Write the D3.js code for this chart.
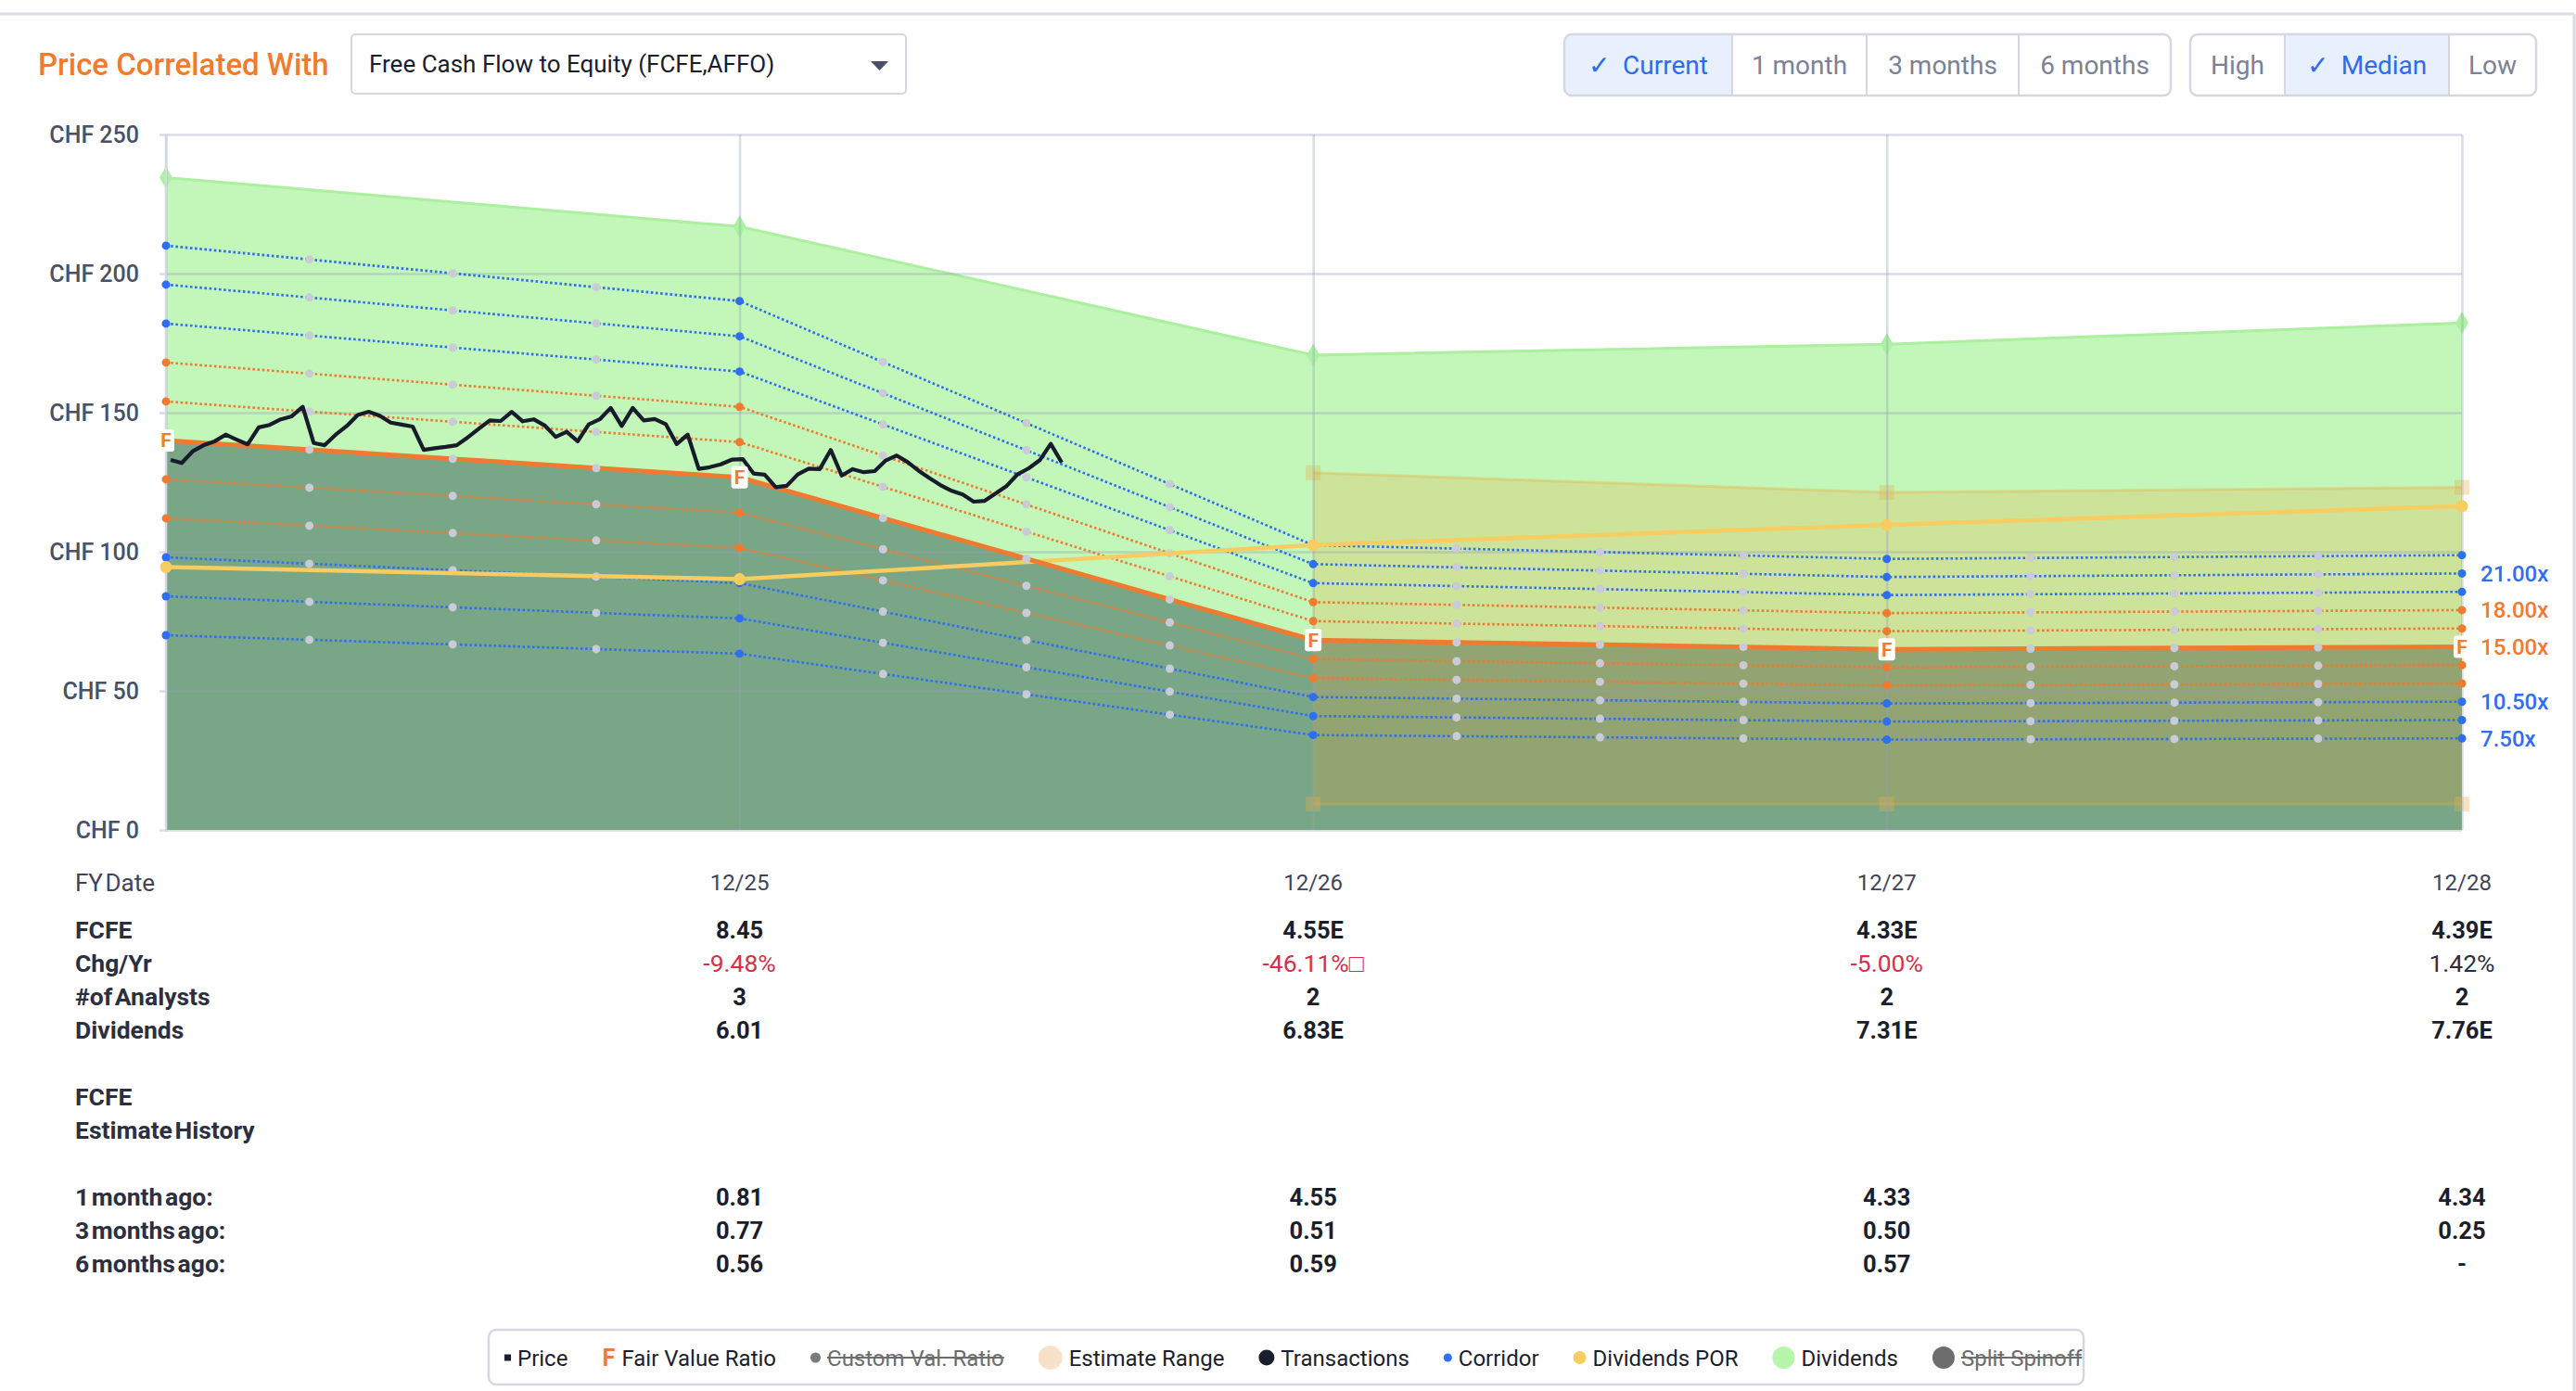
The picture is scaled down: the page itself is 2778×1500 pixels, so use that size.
<!DOCTYPE html>
<html><head><meta charset="utf-8">
<script src="https://cdn.jsdelivr.net/npm/d3@7"></script>
<style>
html,body{margin:0;padding:0;background:#fff;}
svg{display:block;font-family:Roboto,"Liberation Sans",Arial,sans-serif;}
</style></head><body>
<svg id="c" width="2778" height="1500"></svg>
<script>
// ---------------- DATA ----------------
const fyDates = ["2024-12-31","2025-12-31","2026-12-31","2027-12-31","2028-12-31"];
const fyLabels = ["12/24","12/25","12/26","12/27","12/28"];
const fcfe = [9.335, 8.45, 4.55, 4.33, 4.39];
const dividends = [6.3, 6.01, 6.83, 7.31, 7.76];
const fairMultiple = 15;
const corridorMultiples = [7.5, 9, 10.5, 12, 13.5, 16.5, 18, 19.5, 21, 22.5];
const corridorKinds = ["blue","blue","blue","orange","orange","orange","orange","blue","blue","blue"];
const labeledMultiples = [21, 18, 15, 10.5, 7.5];
const estimateYears = ["2026-12-31","2027-12-31","2028-12-31"];
const estimateHigh = [8.56, 8.09, 8.21];
const estimateLow = [0.62, 0.62, 0.62];
const priceStart = "2025-01-03";
const price = [133.0,131.9,136.1,138.3,139.7,142.1,140.3,138.6,144.7,145.6,147.6,148.7,152.1,139.1,138.3,142.1,145.2,149.2,150.3,148.9,146.4,145.7,145.0,136.6,137.2,137.7,138.3,141.1,144.2,147.2,147.0,150.3,146.9,147.6,145.4,141.3,143.1,139.7,145.8,147.6,151.7,145.2,151.7,
  147.2,147.7,145.9,138.7,142.1,129.8,130.4,131.4,133.1,133.3,128.1,127.7,123.2,123.7,127.8,129.9,129.7,136.6,127.4,129.7,128.6,129.0,132.8,134.6,132.2,129.1,126.4,123.9,121.9,120.6,118.0,118.3,121.0,123.7,127.9,130.0,132.9,138.8,132.1];
const yTicks = [0, 50, 100, 150, 200, 250];

const tableCols = ["12/25","12/26","12/27","12/28"];
const rowFCFE = ["8.45","4.55E","4.33E","4.39E"];
const rowChg = ["-9.48%","-46.11%\u25A1","-5.00%","1.42%"];
const rowAnalysts = ["3","2","2","2"];
const rowDividends = ["6.01","6.83E","7.31E","7.76E"];
const hist1m = ["0.81","4.55","4.33","4.34"];
const hist3m = ["0.77","0.51","0.50","0.25"];
const hist6m = ["0.56","0.59","0.57","-"];

const periodButtons = ["Current","1 month","3 months","6 months"];
const statButtons = ["High","Median","Low"];
const legendItems = [
  {label:"Price", sym:"square", color:"#1b1e2c"},
  {label:"Fair Value Ratio", sym:"F", color:"#ef7b31"},
  {label:"Custom Val. Ratio", sym:"circle", r:5.5, color:"#7a7a7a", off:true},
  {label:"Estimate Range", sym:"circle", r:13, color:"#f6e2c9"},
  {label:"Transactions", sym:"circle", r:8.5, color:"#1b1e2c"},
  {label:"Corridor", sym:"circle", r:4.5, color:"#2e6ff2"},
  {label:"Dividends POR", sym:"circle", r:7, color:"#f7cd62"},
  {label:"Dividends", sym:"circle", r:12, color:"#b6f5aa"},
  {label:"Split Spinoff", sym:"circle", r:12, color:"#6d6d6d", off:true}
];

// ---------------- STYLE ----------------
const BLUE = "#2e6ff2", ORANGE = "#ef7b31", GRAY_DOT = "#c9cbd6";
const svg = d3.select("#c");
const parse = d3.timeParse("%Y-%m-%d");
const fy = fyDates.map(parse);
const x = d3.scaleTime().domain([fy[0], fy[fy.length-1]]).range([179, 2655]);
const y = d3.scaleLinear().domain([0, 250]).range([895, 145]);
const idx = d3.range(fy.length);
const fv = idx.map(i => fairMultiple * fcfe[i]);
const divPOR = idx.map(i => fairMultiple * dividends[i]);
const divTop = idx.map(i => fv[i] + divPOR[i]);

// ---------------- FRAME / HEADER ----------------
svg.append("line").attr("x1",0).attr("x2",2776).attr("y1",15).attr("y2",15).attr("stroke","#d9dce4").attr("stroke-width",3);
svg.append("line").attr("x1",2776).attr("x2",2776).attr("y1",15).attr("y2",1500).attr("stroke","#d9dce4").attr("stroke-width",3);

svg.append("text").attr("x",41).attr("y",81).text("Price Correlated With")
  .attr("font-size",33).attr("font-weight",500).attr("fill","#f07b2f");

svg.append("rect").attr("x",379).attr("y",37).attr("width",598).attr("height",64).attr("rx",4)
  .attr("fill","#fff").attr("stroke","#d5d8e2").attr("stroke-width",2);
svg.append("text").attr("x",398).attr("y",78).text("Free Cash Flow to Equity (FCFE,AFFO)")
  .attr("font-size",26).attr("fill","#1a1d2e");
svg.append("path").attr("d","M939,66 L958,66 L948.5,76 Z").attr("fill","#4a5068");

function buttonGroup(labels, bounds, selected, id){
  const g = svg.append("g");
  const x0 = bounds[0], x1 = bounds[bounds.length-1];
  const cp = svg.append("clipPath").attr("id", id);
  cp.append("rect").attr("x",x0).attr("y",37).attr("width",x1-x0).attr("height",66).attr("rx",8);
  g.append("rect").attr("x",x0).attr("y",37).attr("width",x1-x0).attr("height",66).attr("rx",8).attr("fill","#fff");
  g.append("rect").attr("clip-path",`url(#${id})`).attr("x",bounds[selected]).attr("y",37)
    .attr("width",bounds[selected+1]-bounds[selected]).attr("height",66).attr("fill","#e8f0fe");
  for(let i=1;i<bounds.length-1;i++){
    g.append("line").attr("x1",bounds[i]).attr("x2",bounds[i]).attr("y1",37).attr("y2",103).attr("stroke","#d5d8e2").attr("stroke-width",2);
  }
  g.append("rect").attr("x",x0).attr("y",37).attr("width",x1-x0).attr("height",66).attr("rx",8)
    .attr("fill","none").attr("stroke","#d5d8e2").attr("stroke-width",2.5);
  labels.forEach((l,i)=>{
    const t = g.append("text").attr("x",(bounds[i]+bounds[i+1])/2).attr("y",80).attr("text-anchor","middle")
      .attr("font-size",28).attr("fill", i===selected ? "#2f6bf0" : "#7b8197");
    if(i===selected){
      t.append("tspan").text("\u2713");
      t.append("tspan").attr("dx",14).text(l);
    } else t.text(l);
  });
}
buttonGroup(periodButtons, [1687,1868,2013,2177,2341], 0, "cpA");
buttonGroup(statButtons, [2362,2464,2641,2735], 1, "cpB");

// ---------------- PLOT ----------------
const plot = svg.append("g");
plot.append("path").datum(idx)
  .attr("d", d3.area().x(i=>x(fy[i])).y0(i=>y(fv[i])).y1(i=>y(divTop[i])))
  .attr("fill","#c3f7b9");
plot.append("path").datum(idx)
  .attr("d", d3.area().x(i=>x(fy[i])).y0(y(0)).y1(i=>y(fv[i])))
  .attr("fill","#79a686");
plot.append("path").datum(idx)
  .attr("d", d3.line().x(i=>x(fy[i])).y(i=>y(divTop[i])))
  .attr("fill","none").attr("stroke","#abef9f").attr("stroke-width",3);
plot.selectAll(".dmd").data(idx).join("path")
  .attr("transform", i=>`translate(${x(fy[i])},${y(divTop[i])})`)
  .attr("d", d3.symbol(d3.symbolDiamond, 170)).attr("fill","#abf3a0");

// estimate range
const estIdx = d3.range(estimateYears.length);
const estX = i => x(parse(estimateYears[i]));
plot.append("path").datum(estIdx)
  .attr("d", d3.area().x(estX).y0(i=>y(fairMultiple*estimateLow[i])).y1(i=>y(fairMultiple*estimateHigh[i])))
  .attr("fill","rgba(237,160,40,0.22)");
["high","low"].forEach(k=>{
  const arr = k==="high" ? estimateHigh : estimateLow;
  plot.append("path").datum(estIdx)
    .attr("d", d3.line().x(estX).y(i=>y(fairMultiple*arr[i])))
    .attr("fill","none").attr("stroke","rgba(237,170,60,0.35)").attr("stroke-width",3);
  plot.selectAll(".sq"+k).data(estIdx).join("rect")
    .attr("x", i=>estX(i)-8).attr("y", i=>y(fairMultiple*arr[i])-8).attr("width",16).attr("height",16)
    .attr("fill","rgba(232,175,80,0.35)");
});

// gridlines
const gGrid = plot.append("g").attr("transform","translate(2655,0)")
  .call(d3.axisLeft(y).tickValues(yTicks).tickSize(2655-172).tickFormat(""));
gGrid.select(".domain").remove();
gGrid.selectAll("line").attr("stroke","rgba(150,160,182,0.36)").attr("stroke-width",2.5);
const gV = plot.append("g").attr("transform",`translate(0,${y(0)})`)
  .call(d3.axisBottom(x).tickValues(fy).tickSize(-(y(0)-y(250))).tickFormat(""));
gV.select(".domain").remove();
gV.selectAll("line").attr("stroke","rgba(150,160,182,0.36)").attr("stroke-width",2.5);
plot.append("line").attr("x1",179).attr("x2",179).attr("y1",y(250)).attr("y2",y(0)+2)
  .attr("stroke","#d5d8e0").attr("stroke-width",2.5);

// y labels
const gY = svg.append("g").attr("transform","translate(172,0)")
  .call(d3.axisLeft(y).tickValues(yTicks).tickSize(0).tickPadding(22).tickFormat(d=>"CHF " + d));
gY.select(".domain").remove();
gY.selectAll("text").attr("font-size",25).attr("font-weight",500).attr("fill","#4b5066")
  .attr("font-family","Roboto, 'Liberation Sans', Arial, sans-serif");

// quarter markers helper
const quarters = [0.25, 0.5, 0.75];
function quarterPoints(vals){
  const pts = [];
  for(let i=0;i<vals.length-1;i++){
    quarters.forEach(q=>{
      pts.push({t: new Date(+fy[i] + q*(fy[i+1]-fy[i])), v: d3.interpolateNumber(vals[i], vals[i+1])(q)});
    });
  }
  return pts;
}

// corridor lines
corridorMultiples.forEach((m,k)=>{
  const vals = idx.map(i => m*fcfe[i]);
  const col = corridorKinds[k]==="blue" ? BLUE : ORANGE;
  plot.append("path").datum(idx)
    .attr("d", d3.line().x(i=>x(fy[i])).y(i=>y(vals[i])))
    .attr("fill","none").attr("stroke",col).attr("stroke-width",2.6).attr("stroke-dasharray","2.6,2.6");
  plot.selectAll(null).data(quarterPoints(vals)).join("circle")
    .attr("cx",d=>x(d.t)).attr("cy",d=>y(d.v)).attr("r",4.5).attr("fill",GRAY_DOT);
  plot.selectAll(null).data(idx).join("circle")
    .attr("cx",i=>x(fy[i])).attr("cy",i=>y(vals[i])).attr("r",4.5).attr("fill",col);
});

// dividends POR line
plot.append("path").datum(idx)
  .attr("d", d3.line().x(i=>x(fy[i])).y(i=>y(divPOR[i])))
  .attr("fill","none").attr("stroke","#f7cd62").attr("stroke-width",4.5);
plot.selectAll(null).data(idx).join("circle")
  .attr("cx",i=>x(fy[i])).attr("cy",i=>y(divPOR[i])).attr("r",6.5).attr("fill","#f7cd62");

// fair value line
plot.append("path").datum(idx)
  .attr("d", d3.line().x(i=>x(fy[i])).y(i=>y(fv[i])))
  .attr("fill","none").attr("stroke",ORANGE).attr("stroke-width",5);
plot.selectAll(null).data(quarterPoints(fv)).join("circle")
  .attr("cx",d=>x(d.t)).attr("cy",d=>y(d.v)).attr("r",4.5).attr("fill",GRAY_DOT);

// price line
const pStart = parse(priceStart);
const priceData = price.map((v,i)=>({t: d3.timeDay.offset(pStart, 7*i), v}));
plot.append("path").datum(priceData)
  .attr("d", d3.line().x(d=>x(d.t)).y(d=>y(d.v)))
  .attr("fill","none").attr("stroke","#171b2b").attr("stroke-width",4.2).attr("stroke-linejoin","round");

// F labels
const fG = plot.selectAll(null).data(idx).join("g")
  .attr("transform", i=>`translate(${x(fy[i])},${y(fv[i])})`);
fG.append("rect").attr("x",-9).attr("y",-12).attr("width",18).attr("height",24).attr("rx",3).attr("fill","#fff");
fG.append("text").attr("text-anchor","middle").attr("dy","0.36em").attr("font-size",21).attr("font-weight",700)
  .attr("fill",ORANGE).text("F");

// right multiple labels
svg.selectAll(null).data(labeledMultiples).join("text")
  .attr("x",2675).attr("y", m=>y(m*fcfe[fcfe.length-1])).attr("dy","0.35em")
  .attr("font-size",24).attr("font-weight",500)
  .attr("fill", m => (m===15 || corridorKinds[corridorMultiples.indexOf(m)]==="orange") ? ORANGE : BLUE)
  .text(m => m.toFixed(2) + "x");

// ---------------- TABLE ----------------
const colX = tableCols.map((c,i)=>x(fy[i+1]));
function row(label, vals, yy, opt){
  opt = opt || {};
  const lb = opt.labelBold !== false;
  svg.append("text").attr("x",81).attr("y",yy).attr("dy","0.35em").attr("font-size", lb ? 26.5 : 26)
    .attr("font-weight", lb ? 700 : 400).attr("word-spacing", -4)
    .attr("fill", lb ? "#2b2f40" : "#3f4458").text(label);
  if(!vals) return;
  vals.forEach((v,i)=>{
    const vb = opt.valBold !== false;
    let fill = vb ? "#1b1e2c" : "#3f4458";
    let fs = vb ? 25.5 : 24;
    if(opt.signColor){ fill = v.startsWith("-") ? "#d6304a" : "#2b2f40"; fs = 26.5; }
    svg.append("text").attr("x",colX[i]).attr("y",yy).attr("dy","0.35em").attr("text-anchor","middle")
      .attr("font-size",fs).attr("font-weight", vb ? 700 : 400).attr("fill",fill).text(v);
  });
}
row("FY Date", tableCols, 952, {labelBold:false, valBold:false});
row("FCFE", rowFCFE, 1003);
row("Chg/Yr", rowChg, 1039, {valBold:false, signColor:true});
row("#of Analysts", rowAnalysts, 1075);
row("Dividends", rowDividends, 1111);
row("FCFE", null, 1183);
row("Estimate History", null, 1219);
row("1 month ago:", hist1m, 1291);
row("3 months ago:", hist3m, 1327);
row("6 months ago:", hist6m, 1363);

// ---------------- LEGEND ----------------
svg.append("rect").attr("x",527).attr("y",1434).attr("width",1720).attr("height",59).attr("rx",8)
  .attr("fill","#fff").attr("stroke","#d5d8e2").attr("stroke-width",2.5);
let cx = 544; const ly = 1464;
legendItems.forEach(it=>{
  let w;
  if(it.sym==="square"){
    svg.append("rect").attr("x",cx).attr("y",ly-3.5).attr("width",7).attr("height",7).attr("fill",it.color); w=7;
  } else if(it.sym==="F"){
    svg.append("text").attr("x",cx).attr("y",ly).attr("dy","0.36em").attr("font-size",25).attr("font-weight",700)
      .attr("fill",it.color).text("F"); w=14;
  } else {
    svg.append("circle").attr("cx",cx+it.r).attr("cy",ly).attr("r",it.r).attr("fill",it.color); w=2*it.r;
  }
  const tx = cx + w + 7;
  const t = svg.append("text").attr("x",tx).attr("y",ly).attr("dy","0.36em").attr("font-size",24)
    .attr("fill", it.off ? "#6d6d6d" : "#1b1e2c").text(it.label);
  const tw = t.node().getComputedTextLength();
  if(it.off){
    svg.append("line").attr("x1",tx).attr("x2",tx+tw).attr("y1",ly).attr("y2",ly).attr("stroke","#6d6d6d").attr("stroke-width",2);
  }
  cx = tx + tw + 37;
});
</script>
</body></html>
